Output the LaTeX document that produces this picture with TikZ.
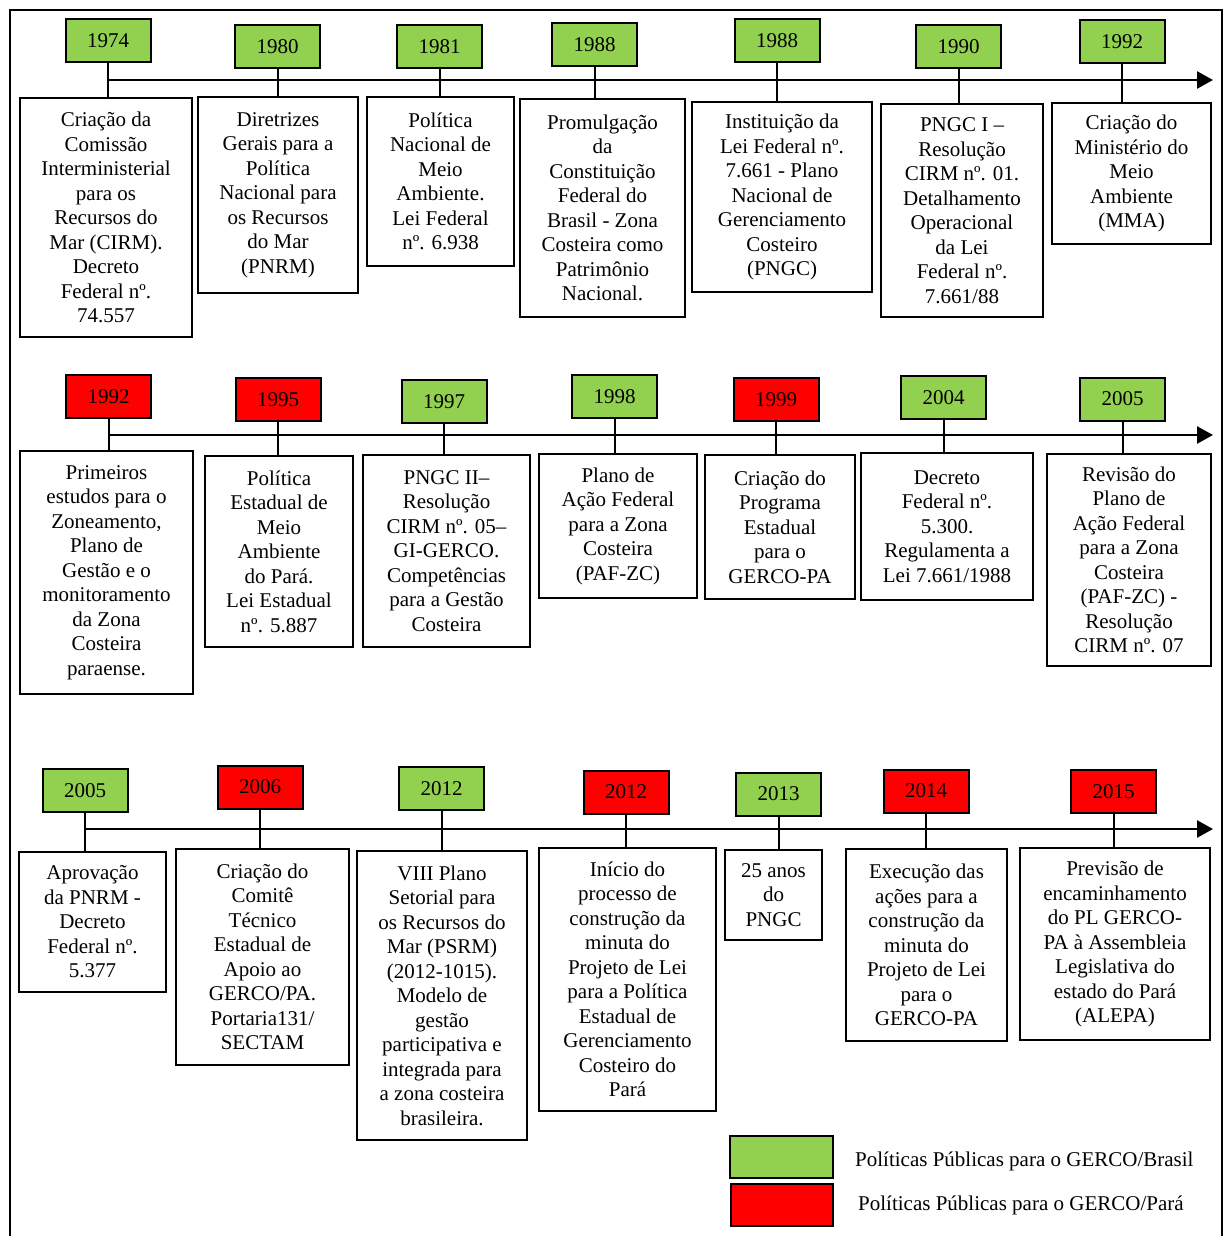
\documentclass[tikz,border=0pt]{standalone}
\usepackage{fontspec}
\setmainfont{Liberation Serif}
\usetikzlibrary{arrows.meta}

\definecolor{brgreen}{HTML}{92D050}
\definecolor{pared}{HTML}{FF0000}

\tikzset{
  txt/.style={font=\fontsize{21}{24.5}\selectfont},
  yrbox/.style={draw, line width=2pt, minimum width=85pt, minimum height=43pt, inner sep=0pt, txt},
  yrbr/.style={yrbox, fill=brgreen},
  yrpa/.style={yrbox, fill=pared},
  evt/.style={draw, line width=1.8pt, align=center, inner sep=4pt, txt},
  stem/.style={line width=2pt},
  axis/.style={line width=2.6pt, -{Triangle[length=16pt,width=17pt]}},
}

\begin{document}
\begin{tikzpicture}[x=1pt,y=-1pt]

\useasboundingbox (0,0) rectangle (1224,1236);
\clip (0,0) rectangle (1224,1236);

% outer frame
\draw[line width=1.8pt] (10,1250) -- (10,10) -- (1222,10) -- (1222,1250);

% ---- first row
\coordinate (axs1) at (108,80);
\coordinate (axe1) at (1213,80);
\draw[axis] (axs1) -- (axe1);

\node[yrbr] (t1974)  at (108,41)     {1974};
\node[yrbr] (t1980)  at (277.5,46.5) {1980};
\node[yrbr] (t1981)  at (439.5,47)   {1981};
\node[yrbr] (t1988a) at (594.5,45)   {1988};
\node[yrbr] (t1988b) at (777,41)     {1988};
\node[yrbr] (t1990)  at (958.5,46.5) {1990};
\node[yrbr] (t1992)  at (1122,42)    {1992};

\node[evt, minimum width=172pt, minimum height=239pt] (d1974) at (106,217.5)
  {Criação da\\Comissão\\Interministerial\\para os\\Recursos do\\Mar (CIRM).\\Decreto\\Federal nº.\\74.557};
\node[evt, minimum width=160pt, minimum height=196pt] (d1980) at (278,195)
  {Diretrizes\\Gerais para a\\Política\\Nacional para\\os Recursos\\do Mar\\(PNRM)};
\node[evt, minimum width=147pt, minimum height=169pt] (d1981) at (440.5,181.5)
  {Política\\Nacional de\\Meio\\Ambiente.\\Lei Federal\\nº. 6.938};
\node[evt, minimum width=165pt, minimum height=218pt] (d1988a) at (602.5,208)
  {Promulgação\\da\\Constituição\\Federal do\\Brasil - Zona\\Costeira como\\Patrimônio\\Nacional.};
\node[evt, minimum width=180pt, minimum height=190pt] (d1988b) at (782,197)
  {Instituição da\\Lei Federal nº.\\7.661 - Plano\\Nacional de\\Gerenciamento\\Costeiro\\(PNGC)};
\node[evt, minimum width=162pt, minimum height=213pt] (d1990) at (962,210.5)
  {PNGC I –\\Resolução\\CIRM nº. 01.\\Detalhamento\\Operacional\\da Lei\\Federal nº.\\7.661/88};
\node[evt, minimum width=159pt, minimum height=141pt] (d1992) at (1131.5,173.5)
  {Criação do\\Ministério do\\Meio\\Ambiente\\(MMA)};

\draw[stem] (t1974)  -- (t1974 |- d1974.north);
\draw[stem] (t1980)  -- (t1980 |- d1980.north);
\draw[stem] (t1981)  -- (t1981 |- d1981.north);
\draw[stem] (t1988a) -- (t1988a |- d1988a.north);
\draw[stem] (t1988b) -- (t1988b |- d1988b.north);
\draw[stem] (t1990)  -- (t1990 |- d1990.north);
\draw[stem] (t1992)  -- (t1992 |- d1992.north);

% ---- second row
\coordinate (axs2) at (108,435);
\coordinate (axe2) at (1213,435);
\draw[axis] (axs2) -- (axe2);

\node[yrpa] (t1992p) at (108.5,396.5) {1992};
\node[yrpa] (t1995)  at (278,399.5)   {1995};
\node[yrbr] (t1997)  at (444,401.5)   {1997};
\node[yrbr] (t1998)  at (614.5,396.5) {1998};
\node[yrpa] (t1999)  at (776,399.5)   {1999};
\node[yrbr] (t2004)  at (943.5,397.5) {2004};
\node[yrbr] (t2005)  at (1122.5,399)  {2005};

\node[evt, minimum width=173pt, minimum height=243pt] (d1992p) at (106.5,572.5)
  {Primeiros\\estudos para o\\Zoneamento,\\Plano de\\Gestão e o\\monitoramento\\da Zona\\Costeira\\paraense.};
\node[evt, minimum width=148pt, minimum height=191pt] (d1995) at (279,551.5)
  {Política\\Estadual de\\Meio\\Ambiente\\do Pará.\\Lei Estadual\\nº. 5.887};
\node[evt, minimum width=167pt, minimum height=192pt] (d1997) at (446.5,551)
  {PNGC II–\\Resolução\\CIRM nº. 05–\\GI-GERCO.\\Competências\\para a Gestão\\Costeira};
\node[evt, minimum width=158pt, minimum height=144pt] (d1998) at (618,526)
  {Plano de\\Ação Federal\\para a Zona\\Costeira\\(PAF-ZC)};
\node[evt, minimum width=150pt, minimum height=144pt] (d1999) at (780,527)
  {Criação do\\Programa\\Estadual\\para o\\GERCO-PA};
\node[evt, minimum width=172pt, minimum height=147pt] (d2004) at (947,526.5)
  {Decreto\\Federal nº.\\5.300.\\Regulamenta a\\Lei 7.661/1988};
\node[evt, minimum width=164pt, minimum height=212pt] (d2005) at (1129,560)
  {Revisão do\\Plano de\\Ação Federal\\para a Zona\\Costeira\\(PAF-ZC) -\\Resolução\\CIRM nº. 07};

\draw[stem] (t1992p) -- (t1992p |- d1992p.north);
\draw[stem] (t1995)  -- (t1995 |- d1995.north);
\draw[stem] (t1997)  -- (t1997 |- d1997.north);
\draw[stem] (t1998)  -- (t1998 |- d1998.north);
\draw[stem] (t1999)  -- (t1999 |- d1999.north);
\draw[stem] (t2004)  -- (t2004 |- d2004.north);
\draw[stem] (t2005)  -- (t2005 |- d2005.north);

% ---- third row
\coordinate (axs3) at (86,829);
\coordinate (axe3) at (1213,829);
\draw[axis] (axs3) -- (axe3);

\node[yrbr] (t2005b) at (85,790.5)    {2005};
\node[yrpa] (t2006)  at (260,787)     {2006};
\node[yrbr] (t2012)  at (441.5,788.5) {2012};
\node[yrpa] (t2012p) at (626,792)     {2012};
\node[yrbr] (t2013)  at (778.5,794)   {2013};
\node[yrpa] (t2014)  at (926,791)     {2014};
\node[yrpa] (t2015)  at (1113.5,791.5){2015};

\node[evt, minimum width=147pt, minimum height=140pt] (d2005b) at (92.5,922)
  {Aprovação\\da PNRM -\\Decreto\\Federal nº.\\5.377};
\node[evt, minimum width=173pt, minimum height=216pt] (d2006) at (262.5,957)
  {Criação do\\Comitê\\Técnico\\Estadual de\\Apoio ao\\GERCO/PA.\\Portaria131/\\SECTAM};
\node[evt, minimum width=170pt, minimum height=289pt] (d2012) at (442,995.5)
  {VIII Plano\\Setorial para\\os Recursos do\\Mar (PSRM)\\(2012-1015).\\Modelo de\\gestão\\participativa e\\integrada para\\a zona costeira\\brasileira.};
\node[evt, minimum width=177pt, minimum height=263pt] (d2012p) at (627.5,979.5)
  {Início do\\processo de\\construção da\\minuta do\\Projeto de Lei\\para a Política\\Estadual de\\Gerenciamento\\Costeiro do\\Pará};
\node[evt, minimum width=97pt, minimum height=90pt] (d2013) at (773.5,895)
  {25 anos\\do\\PNGC};
\node[evt, minimum width=161pt, minimum height=192pt] (d2014) at (926.5,945)
  {Execução das\\ações para a\\construção da\\minuta do\\Projeto de Lei\\para o\\GERCO-PA};
\node[evt, minimum width=190pt, minimum height=192pt] (d2015) at (1115,944)
  {Previsão de\\encaminhamento\\do PL GERCO-\\PA à Assembleia\\Legislativa do\\estado do Pará\\(ALEPA)};

\draw[stem] (t2005b) -- (t2005b |- d2005b.north);
\draw[stem] (t2006)  -- (t2006 |- d2006.north);
\draw[stem] (t2012)  -- (t2012 |- d2012.north);
\draw[stem] (t2012p) -- (t2012p |- d2012p.north);
\draw[stem] (t2013)  -- (t2013 |- d2013.north);
\draw[stem] (t2014)  -- (t2014 |- d2014.north);
\draw[stem] (t2015)  -- (t2015 |- d2015.north);

% ---- legend
\node[yrbr, minimum width=103pt, minimum height=42pt] (lgbr) at (781.5,1157) {};
\node[yrpa, minimum width=102pt, minimum height=42pt] (lgpa) at (782,1205) {};
\node[txt, anchor=west, inner sep=0pt] (lgbrtxt) at (855,1161) {Políticas Públicas para o GERCO/Brasil};
\node[txt, anchor=west, inner sep=0pt] (lgpatxt) at (858,1205) {Políticas Públicas para o GERCO/Pará};

\end{tikzpicture}
\end{document}
